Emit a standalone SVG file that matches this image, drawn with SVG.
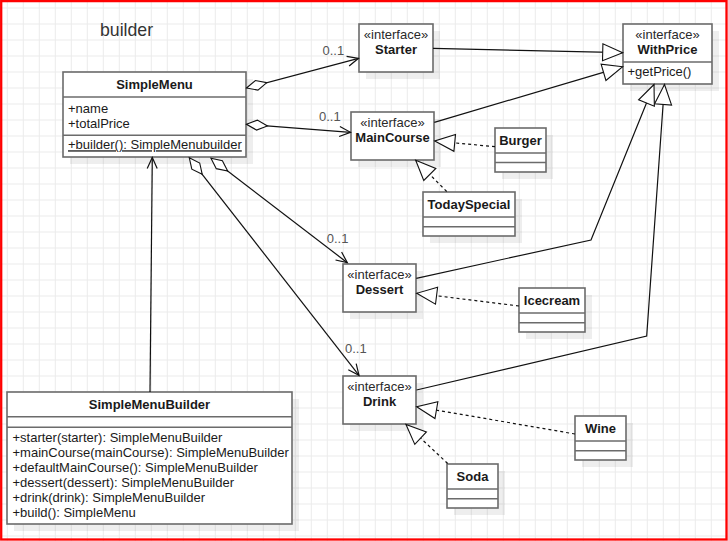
<svg xmlns="http://www.w3.org/2000/svg" width="728" height="541" viewBox="0 0 728 541">
<defs>
<pattern id="grid" x="6.8" y="7.5" width="16" height="16" patternUnits="userSpaceOnUse">
<path d="M0.5,0 V16 M0,0.5 H16" fill="none" stroke="#ebebeb" stroke-width="1"/>
</pattern>
<marker id="tri" markerUnits="userSpaceOnUse" markerWidth="26" markerHeight="22" viewBox="-23 -11 26 22" refX="0" refY="0" orient="auto">
<path d="M0,0 L-20,-8.5 L-20,8.5 Z" fill="#fff" stroke="#111" stroke-width="1.1" stroke-dasharray="none"/>
</marker>
<marker id="dia" markerUnits="userSpaceOnUse" markerWidth="26" markerHeight="14" viewBox="-2 -7 26 14" refX="0" refY="0" orient="auto">
<path d="M0,0 L10.5,-5 L21,0 L10.5,5 Z" fill="#fff" stroke="#111" stroke-width="1.1"/>
</marker>
<marker id="open" markerUnits="userSpaceOnUse" markerWidth="16" markerHeight="14" viewBox="-14 -7 16 14" refX="0" refY="0" orient="auto">
<path d="M-11,-5 L0,0 L-11,5" fill="none" stroke="#111" stroke-width="1.2"/>
</marker>
</defs>
<style>
.box{fill:#fff;stroke:#6b6b6b;stroke-width:1.6}
.shadow{fill:#000;fill-opacity:0.065}
.div{stroke:#6b6b6b;stroke-width:1.6;fill:none}
.t{font-family:"Liberation Sans",Arial,Helvetica,sans-serif;font-size:13px;fill:#1a1a1a}
.b{font-weight:bold}
.c{text-anchor:middle}
.st{fill:#2a2a2a}
.lbl{fill:#555}
.ln{fill:none;stroke:#111;stroke-width:1.2}
.dash{stroke-dasharray:3 3}
</style>
<rect x="0" y="0" width="728" height="541" fill="#fff"/>
<rect x="0" y="0" width="728" height="541" fill="url(#grid)"/>
<rect x="1.2" y="1.1" width="725.3" height="538.4" fill="none" stroke="#ff0000" stroke-width="2.3"/>

<text x="100" y="35.5" class="t" style="font-size:17.7px;fill:#333">builder</text>

<g id="SimpleMenu">
<rect class="shadow" x="70" y="79" width="183" height="85"/>
<rect class="box" x="63" y="72" width="183" height="85"/>
<line class="div" x1="63" y1="97" x2="246" y2="97"/>
<line class="div" x1="63" y1="135.3" x2="246" y2="135.3"/>
<text class="t b c" x="154.5" y="89.3">SimpleMenu</text>
<text class="t" x="68" y="112.5">+name</text>
<text class="t" x="68" y="127.5">+totalPrice</text>
<text class="t" x="68" y="149.3" text-decoration="underline">+builder(): SimpleMenubuilder</text>
</g>

<g id="Starter">
<rect class="shadow" x="366" y="31" width="74" height="48"/>
<rect class="box" x="359" y="24" width="74" height="48"/>
<text class="t st c" x="396" y="39">«interface»</text>
<text class="t b c" x="396" y="54">Starter</text>
</g>

<g id="WithPrice">
<rect class="shadow" x="630" y="31" width="89" height="60"/>
<rect class="box" x="623" y="24" width="89" height="60"/>
<line class="div" x1="623" y1="62" x2="712" y2="62"/>
<text class="t st c" x="667.5" y="39">«interface»</text>
<text class="t b c" x="667.5" y="54">WithPrice</text>
<text class="t" x="627.5" y="76">+getPrice()</text>
</g>

<g id="MainCourse">
<rect class="shadow" x="358" y="119" width="83" height="48"/>
<rect class="box" x="351" y="112" width="83" height="48"/>
<text class="t st c" x="392.5" y="127">«interface»</text>
<text class="t b c" x="392.5" y="142">MainCourse</text>
</g>

<g id="Burger">
<rect class="shadow" x="502" y="135" width="51" height="44"/>
<rect class="box" x="495" y="128" width="51" height="44"/>
<line class="div" x1="495" y1="153" x2="546" y2="153"/>
<line class="div" x1="495" y1="162.5" x2="546" y2="162.5"/>
<text class="t b c" x="520.5" y="145">Burger</text>
</g>

<g id="TodaySpecial">
<rect class="shadow" x="430" y="199" width="92" height="44"/>
<rect class="box" x="423" y="192" width="92" height="44"/>
<line class="div" x1="423" y1="217" x2="515" y2="217"/>
<line class="div" x1="423" y1="226.7" x2="515" y2="226.7"/>
<text class="t b c" x="469" y="209.3">TodaySpecial</text>
</g>

<g id="Dessert">
<rect class="shadow" x="350" y="271" width="73" height="48"/>
<rect class="box" x="343" y="264" width="73" height="48"/>
<text class="t st c" x="379.5" y="279">«interface»</text>
<text class="t b c" x="379.5" y="294">Dessert</text>
</g>

<g id="Icecream">
<rect class="shadow" x="526" y="295" width="66" height="44"/>
<rect class="box" x="519" y="288" width="66" height="44"/>
<line class="div" x1="519" y1="313" x2="585" y2="313"/>
<line class="div" x1="519" y1="322.7" x2="585" y2="322.7"/>
<text class="t b c" x="552" y="304.5">Icecream</text>
</g>

<g id="Drink">
<rect class="shadow" x="350" y="383" width="73" height="48"/>
<rect class="box" x="343" y="376" width="73" height="48"/>
<text class="t st c" x="379.5" y="391">«interface»</text>
<text class="t b c" x="379.5" y="406">Drink</text>
</g>

<g id="Wine">
<rect class="shadow" x="582" y="423" width="51" height="44"/>
<rect class="box" x="575" y="416" width="51" height="44"/>
<line class="div" x1="575" y1="441" x2="626" y2="441"/>
<line class="div" x1="575" y1="450.7" x2="626" y2="450.7"/>
<text class="t b c" x="600.5" y="432.7">Wine</text>
</g>

<g id="Soda">
<rect class="shadow" x="454" y="471" width="51" height="44"/>
<rect class="box" x="447" y="464" width="51" height="44"/>
<line class="div" x1="447" y1="489" x2="498" y2="489"/>
<line class="div" x1="447" y1="498.7" x2="498" y2="498.7"/>
<text class="t b c" x="472.5" y="480.5">Soda</text>
</g>

<g id="SimpleMenuBuilder">
<rect class="shadow" x="14" y="399" width="285" height="132"/>
<rect class="box" x="7" y="392" width="285" height="132"/>
<line class="div" x1="7" y1="416.7" x2="292" y2="416.7"/>
<line class="div" x1="7" y1="427.3" x2="292" y2="427.3"/>
<text class="t b c" x="149.5" y="408.5">SimpleMenuBuilder</text>
<text class="t" x="12.5" y="441.7">+starter(starter): SimpleMenuBuilder</text>
<text class="t" x="12.5" y="456.7">+mainCourse(mainCourse): SimpleMenuBuilder</text>
<text class="t" x="12.5" y="471.7">+defaultMainCourse(): SimpleMenuBuilder</text>
<text class="t" x="12.5" y="486.7">+dessert(dessert): SimpleMenuBuilder</text>
<text class="t" x="12.5" y="501.7">+drink(drink): SimpleMenuBuilder</text>
<text class="t" x="12.5" y="516.7">+build(): SimpleMenu</text>
</g>

<g id="connectors">
<path class="ln" d="M246.5,88 L358.5,58.3" marker-start="url(#dia)" marker-end="url(#open)"/>
<path class="ln" d="M246.5,124.3 L350.5,132.3" marker-start="url(#dia)" marker-end="url(#open)"/>
<path class="ln" d="M211,158.3 L347.3,262.7" marker-start="url(#dia)" marker-end="url(#open)"/>
<path class="ln" d="M189.3,157.8 L359,375.3" marker-start="url(#dia)" marker-end="url(#open)"/>
<path class="ln" d="M150,392 L152.3,157.5" marker-end="url(#open)"/>
<path class="ln" d="M433,48.3 L622.7,52.7" marker-end="url(#tri)"/>
<path class="ln" d="M434.3,122.3 L622.7,66.7" marker-end="url(#tri)"/>
<path class="ln" d="M416.3,278.3 L591,240 L654,84.5" marker-end="url(#tri)"/>
<path class="ln" d="M416.5,390 L646.7,336 L664.5,84.5" marker-end="url(#tri)"/>
<path class="ln dash" d="M495,146.7 L434.8,141" marker-end="url(#tri)"/>
<path class="ln dash" d="M446.7,191.5 L415.7,160.3" marker-end="url(#tri)"/>
<path class="ln dash" d="M519,306 L416.7,293.3" marker-end="url(#tri)"/>
<path class="ln dash" d="M575,434 L416.7,406.7" marker-end="url(#tri)"/>
<path class="ln dash" d="M447.7,463.5 L406,424.5" marker-end="url(#tri)"/>
<text class="t lbl" x="322.5" y="55">0..1</text>
<text class="t lbl" x="319" y="121">0..1</text>
<text class="t lbl" x="326.7" y="242.5">0..1</text>
<text class="t lbl" x="345" y="353.3">0..1</text>
</g>
</svg>
